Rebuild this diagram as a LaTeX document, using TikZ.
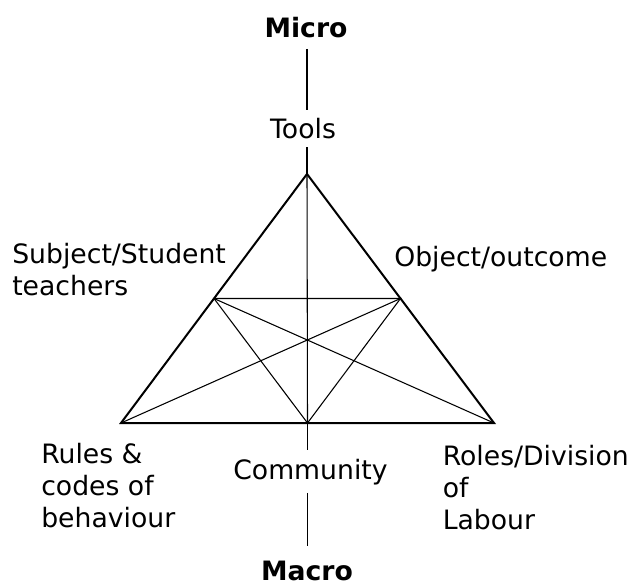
\documentclass[tikz,border=0pt]{standalone}
\usepackage{fontspec}
\setmainfont{DejaVu Sans}
\usetikzlibrary{calc}
\tikzset{>={latex}}
\tikzstyle{txt}=[font=\fontsize{20}{24}\selectfont, inner sep=0pt, align=left]
\tikzstyle{axistxt}=[txt, font=\fontsize{20}{24}\selectfont\bfseries]
\tikzstyle{gaptxt}=[txt, inner sep=6pt]
\tikzstyle{side}=[line width=1.5pt, line join=miter]
\tikzstyle{thinline}=[line width=0.8pt]

\begin{document}
\begin{tikzpicture}[x=0.75pt, y=-0.75pt]
			%\draw [help lines] (0,0) grid (631,586);
			\useasboundingbox (0,0) rectangle (631,586);

			% corners of the triangle
			\coordinate (tools-c) at (307,174);
			\coordinate (rules-c) at (121,423);
			\coordinate (roles-c) at (494,423);
			\coordinate (subject-c) at ($(tools-c)!0.5!(rules-c)$);
			\coordinate (object-c) at ($(tools-c)!0.5!(roles-c)$);
			\coordinate (community-c) at ($(rules-c)!0.5!(roles-c)$);

			% labels (base = last line)
			\node[axistxt, anchor=base] (micro) at (306,37.5) {Micro};
			\node[gaptxt, anchor=base] (tools) at (303,138.5) {Tools};
			\node[txt, anchor=base west] (subject) at (12,295) {Subject/Student\\teachers};
			\node[txt, anchor=base west] (object) at (394,266) {Object/outcome};
			\node[txt, anchor=base west] (rules) at (41,527) {Rules \&\\codes of\\behaviour};
			\node[gaptxt, anchor=base] (community) at (310.5,479) {Community};
			\node[txt, anchor=base west] (roles) at (442.5,529.5) {Roles/Division\\of\\Labour};
			\node[axistxt, anchor=base] (macro) at (307,580) {Macro};

			% micro--macro axis
			\draw[thinline, shorten <=8pt] (micro.south -| tools-c) -- (tools.north -| tools-c);
			\draw[thinline] (tools.south -| tools-c) -- (tools-c);
			\draw[thinline] (tools-c) -- (community-c);
			\draw[thinline] (community-c) -- (community.north -| community-c);
			\draw[thinline, shorten >=11pt] (community.south -| community-c) -- (macro.north -| community-c);

			% inner lines
			\draw[thinline] (subject-c) -- (object-c) -- (community-c) -- cycle;
			\draw[thinline] (rules-c) -- (object-c);
			\draw[thinline] (roles-c) -- (subject-c);

			% outer triangle
			\draw[side] (tools-c) -- (rules-c) -- (roles-c) -- cycle;
\end{tikzpicture}
\end{document}
